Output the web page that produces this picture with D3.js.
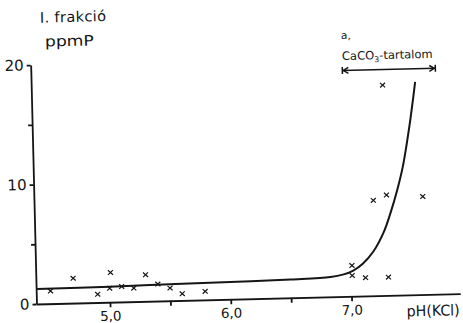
<!DOCTYPE html>
<html>
<head>
<meta charset="utf-8">
<script src="https://cdn.jsdelivr.net/npm/d3@7/dist/d3.min.js"></script>
<style>
  html, body { margin: 0; padding: 0; background: #fff; }
  svg { display: block; }
  text { font-family: "DejaVu Sans", sans-serif; fill: #151515; }
</style>
</head>
<body>
<svg id="chart" width="463" height="323"></svg>
<script>
// ---- data ----
const curvePH  = [4.40, 5.00, 5.50, 6.00, 6.50, 6.83, 6.94, 7.02, 7.10, 7.19, 7.28, 7.34, 7.40, 7.45, 7.52, 7.57];
const curveVal = [1.25, 1.30, 1.38, 1.45, 1.53, 1.65, 1.85, 2.15, 2.7, 3.7, 5.3, 6.9, 8.8, 10.7, 14.5, 17.8];

const pointPH  = [4.51, 4.70, 4.90, 5.00, 5.01, 5.10, 5.20, 5.30, 5.40, 5.50, 5.60, 5.79, 7.01, 7.01, 7.12, 7.31, 7.20, 7.31, 7.61, 7.30];
const pointVal = [1.06, 2.08, 0.69, 1.17, 2.48, 1.29, 1.13, 2.22, 1.42, 1.06, 0.56, 0.71, 2.58, 1.74, 1.53, 1.53, 7.98, 8.40, 8.20, 17.6];

const xTicks = [5, 5.5, 6, 6.5, 7];
const xTickLabels = {5: "5,0", 6: "6,0", 7: "7,0"};
const yTicks = [0, 5, 10, 15, 20];
const yTickLabels = {0: "0", 10: "10", 20: "20"};

const carbonateRange = [6.97, 7.74];
const carbonateLevel = 18.9;
const titleText = "I. frakció";
const unitText = "ppmP";
const xAxisTitle = "pH(KCl)";
const panelLabel = "a,";

// ---- layout ----
const ink = "#151515";
const svg = d3.select("#chart");
const g = svg.append("g").attr("transform", "rotate(-1.4, 36.5, 304)");

const x = d3.scaleLinear().domain([4.39, 7.9]).range([36.3, 460.3]);
const y = d3.scaleLinear().domain([0, 20]).range([304, 65]);

// x axis
const xAxis = g.append("g").attr("transform", "translate(0,304)")
  .call(d3.axisBottom(x).tickValues(xTicks).tickSize(5).tickSizeOuter(0).tickPadding(4)
    .tickFormat(d => xTickLabels[d] || ""));
xAxis.selectAll("path, line").attr("stroke", ink).attr("stroke-width", 1.8);
xAxis.selectAll("text").attr("font-size", 13.5).attr("font-family", "DejaVu Sans").attr("fill", ink);

// y axis
const yAxis = g.append("g").attr("transform", "translate(36.5,0)")
  .call(d3.axisLeft(y).tickValues(yTicks).tickSize(4).tickSizeOuter(0).tickPadding(3)
    .tickFormat(d => yTickLabels[d] || ""));
yAxis.selectAll("path, line").attr("stroke", ink).attr("stroke-width", 1.8);
yAxis.selectAll("text").attr("font-size", 15).attr("font-family", "DejaVu Sans").attr("fill", ink);

// curve
const curveData = curvePH.map((p, i) => [p, curveVal[i]]);
g.append("path")
  .datum(curveData)
  .attr("fill", "none")
  .attr("stroke", ink)
  .attr("stroke-width", 2)
  .attr("d", d3.line().x(d => x(d[0])).y(d => y(d[1])).curve(d3.curveCatmullRom.alpha(0.5)));

// points (x markers)
const pts = pointPH.map((p, i) => [p, pointVal[i]]);
g.append("g").selectAll("path").data(pts).join("path")
  .attr("transform", d => `translate(${x(d[0])},${y(d[1])})`)
  .attr("d", "M-2.5,-2.3L2.5,2.3M-2.5,2.3L2.5,-2.3")
  .attr("stroke", ink)
  .attr("stroke-width", 1.2)
  .attr("fill", "none");

// carbonate range arrow
const ax0 = x(carbonateRange[0]), ax1 = x(carbonateRange[1]), ay = y(carbonateLevel);
const arr = g.append("g").attr("stroke", ink).attr("stroke-width", 1.5).attr("fill", "none");
arr.append("line").attr("x1", ax0).attr("x2", ax1).attr("y1", ay).attr("y2", ay);
arr.append("line").attr("x1", ax0).attr("x2", ax0).attr("y1", ay - 3.5).attr("y2", ay + 3.5);
arr.append("line").attr("x1", ax1).attr("x2", ax1).attr("y1", ay - 3.5).attr("y2", ay + 3.5);
arr.append("path").attr("d", `M${ax0 + 6},${ay - 3}L${ax0 + 1},${ay}L${ax0 + 6},${ay + 3}`);
arr.append("path").attr("d", `M${ax1 - 6},${ay - 3}L${ax1 - 1},${ay}L${ax1 - 6},${ay + 3}`);

const ct = g.append("text").attr("x", ax0).attr("y", ay - 10.5).attr("font-size", 11.5);
ct.append("tspan").text("CaCO");
ct.append("tspan").attr("font-size", 8).attr("dy", 3).text("3");
ct.append("tspan").attr("dy", -3).text("-tartalom");

g.append("text").attr("x", ax0 - 0.5).attr("y", ay - 31.5)
  .attr("font-size", 10.5).text(panelLabel);

// titles
g.append("text").attr("x", 46.9).attr("y", 22.8).attr("font-size", 14.5)
  .attr("textLength", 66).attr("lengthAdjust", "spacing").text(titleText);
g.append("text").attr("x", 51.3).attr("y", 46.9).attr("font-size", 14.5)
  .attr("textLength", 49).attr("lengthAdjust", "spacingAndGlyphs").text(unitText);
g.append("text").attr("x", 406.4).attr("y", 325.5).attr("font-size", 15)
  .attr("textLength", 53).attr("lengthAdjust", "spacingAndGlyphs").text(xAxisTitle);
</script>
</body>
</html>
